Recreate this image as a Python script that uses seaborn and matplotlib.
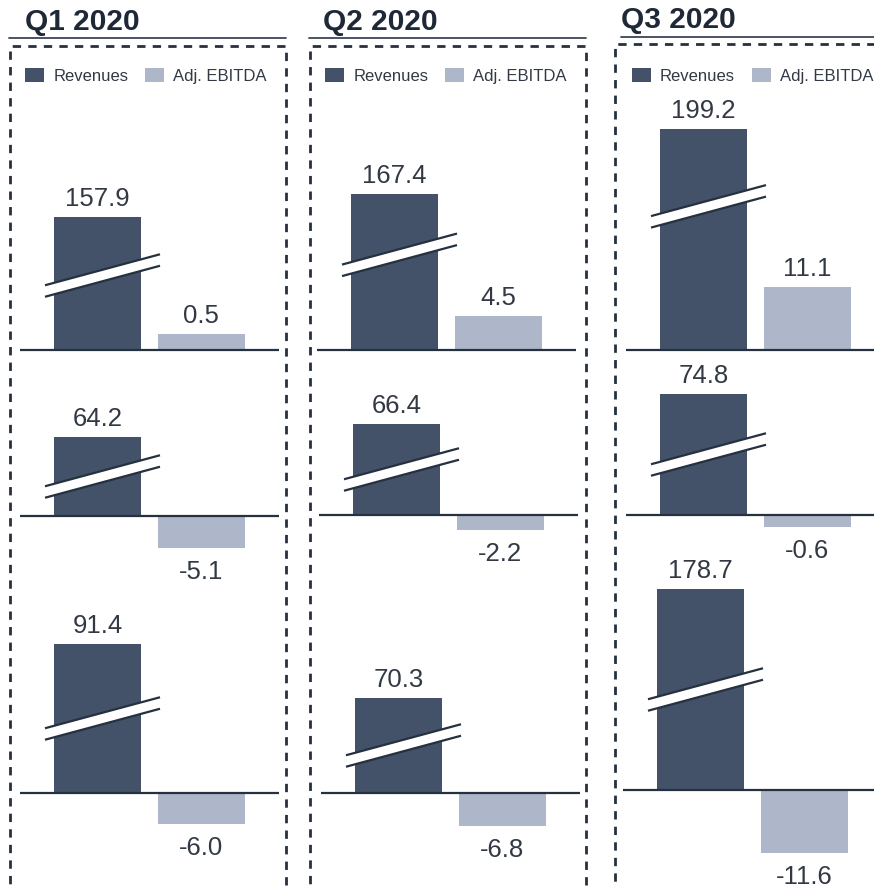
import matplotlib
matplotlib.use("Agg")
import matplotlib.pyplot as plt
from matplotlib.patches import Patch, Rectangle, Polygon
from matplotlib.lines import Line2D
import seaborn as sns
import pandas as pd
import numpy as np

# ---------------- data ----------------
quarters = ["Q1 2020", "Q2 2020", "Q3 2020"]
series = ["Revenues", "Adj. EBITDA"]
revenues = [[157.9, 64.2, 91.4], [167.4, 66.4, 70.3], [199.2, 74.8, 178.7]]
adj_ebitda = [[0.5, -5.1, -6.0], [4.5, -2.2, -6.8], [11.1, -0.6, -11.6]]
# heights as drawn on the broken (non-linear) scale of the original chart
rev_drawn = [[133, 79, 149], [156, 91, 95], [221, 121, 201]]
ebitda_drawn = [[16, -32, -31], [34, -15, -33], [63, -12, -63]]

# ---------------- style ----------------
REV_C = "#435269"
EBI_C = "#adb7c9"
TXT_C = "#323945"
DARK = "#263140"

sns.set_theme(style="white")
plt.rcParams["font.family"] = ["Liberation Sans", "DejaVu Sans"]

W, H = 874, 888
fig = plt.figure(figsize=(W / 100, H / 100), dpi=100)


def fx(x):
    return x / W


def fy(y):
    return 1 - y / H


# layout (pixels in the 874x888 canvas)
baselines = [[350, 516, 793], [350, 515, 793], [350, 515, 790]]
rev_centers = [[97.5, 97.5, 97.5], [394.5, 396.5, 398.5], [703.5, 703.5, 700.5]]
break_frac = [[0.56, 0.5, 0.5], [0.61, 0.5, 0.5], [0.65, 0.5, 0.5]]
SEP = 103.5        # px between bar centres
BAR_W = 87.0       # px
LEFT_EXT, RIGHT_EXT = 77.5, 181.5
UP, DOWN = 250, 90

title_x = [25, 323, 621]
title_base = [30, 29.5, 28]
uline = [(9, 286, 38), (309, 586, 38), (621, 880, 37.5)]
boxes = [(9.5, 46.5, 286, 889), (309.5, 46.5, 586, 889), (615, 44.5, 905, 889)]
legend_x = [25, 325, 631.5]
legend_y = 76

for qi, q in enumerate(quarters):
    # title + underline
    fig.text(fx(title_x[qi]), fy(title_base[qi]), q, fontsize=21.5,
             fontweight="bold", color="#1e2836", va="baseline", ha="left")
    x0, x1, yy = uline[qi]
    fig.add_artist(Line2D([fx(x0), fx(x1)], [fy(yy), fy(yy)], color="#3a4556",
                          lw=1.3, transform=fig.transFigure))
    # dashed box
    bx0, by0, bx1, by1 = boxes[qi]
    fig.add_artist(Rectangle((fx(bx0), fy(by1)), fx(bx1) - fx(bx0), fy(by0) - fy(by1),
                             transform=fig.transFigure, fill=False, edgecolor=DARK,
                             lw=2.0, linestyle=(0, (3.0, 2.6))))
    # legend
    handles = [Patch(facecolor=REV_C, edgecolor="none"),
               Patch(facecolor=EBI_C, edgecolor="none")]
    fig.legend(handles, series, loc="center left",
               bbox_to_anchor=(fx(legend_x[qi]), fy(legend_y)),
               bbox_transform=fig.transFigure, ncol=2, frameon=False,
               borderpad=0, borderaxespad=0, handlelength=1.15,
               handleheight=0.85, handletextpad=0.55, columnspacing=1.0,
               fontsize=12, labelcolor=TXT_C)

    for ri in range(3):
        base = baselines[qi][ri]
        cx = rev_centers[qi][ri]
        left_px = cx - LEFT_EXT
        width_px = LEFT_EXT + RIGHT_EXT
        ax = fig.add_axes([fx(left_px), fy(base + DOWN), width_px / W, (UP + DOWN) / H])
        ax.patch.set_alpha(0)
        df = pd.DataFrame({"series": series,
                           "height": [rev_drawn[qi][ri], ebitda_drawn[qi][ri]]})
        sns.barplot(data=df, x="series", y="height", hue="series", order=series,
                    hue_order=series, palette=[REV_C, EBI_C], width=BAR_W / SEP,
                    saturation=1, legend=False, linewidth=0, ax=ax)
        ax.set_xlim(-LEFT_EXT / SEP, RIGHT_EXT / SEP)
        ax.set_ylim(-DOWN, UP)
        ax.set_axis_off()
        ax.axhline(0, color=DARK, lw=1.6, zorder=5)

        # labels
        vals = [revenues[qi][ri], adj_ebitda[qi][ri]]
        hs = [rev_drawn[qi][ri], ebitda_drawn[qi][ri]]
        for k in range(2):
            yv = hs[k] + 11 if hs[k] >= 0 else hs[k] - 31
            ax.text(k, yv, f"{vals[k]:.1f}", ha="center", va="baseline",
                    fontsize=18.5, color=TXT_C)

        # broken-axis marker on the revenue bar
        hb = rev_drawn[qi][ri] * break_frac[qi][ri]
        xl, xr = -52.5, 62.5                      # px relative to bar centre
        xm = (xl + xr) / 2
        slope = 31 / 115
        gap = 11.5

        def yline(xp, off):
            return hb + (xp - xm) * slope + off
        up_l, up_r = yline(xl, gap / 2), yline(xr, gap / 2)
        lo_l, lo_r = yline(xl, -gap / 2), yline(xr, -gap / 2)
        xs = [xl / SEP, xr / SEP]
        ax.add_patch(Polygon([[xs[0], lo_l], [xs[1], lo_r], [xs[1], up_r], [xs[0], up_l]],
                             closed=True, facecolor="white", edgecolor="none",
                             zorder=6, clip_on=False))
        ax.plot(xs, [up_l, up_r], color=DARK, lw=1.6, zorder=7, solid_capstyle="butt")
        ax.plot(xs, [lo_l, lo_r], color=DARK, lw=1.6, zorder=7, solid_capstyle="butt")

fig.savefig("out.png", dpi=100, facecolor="white")
